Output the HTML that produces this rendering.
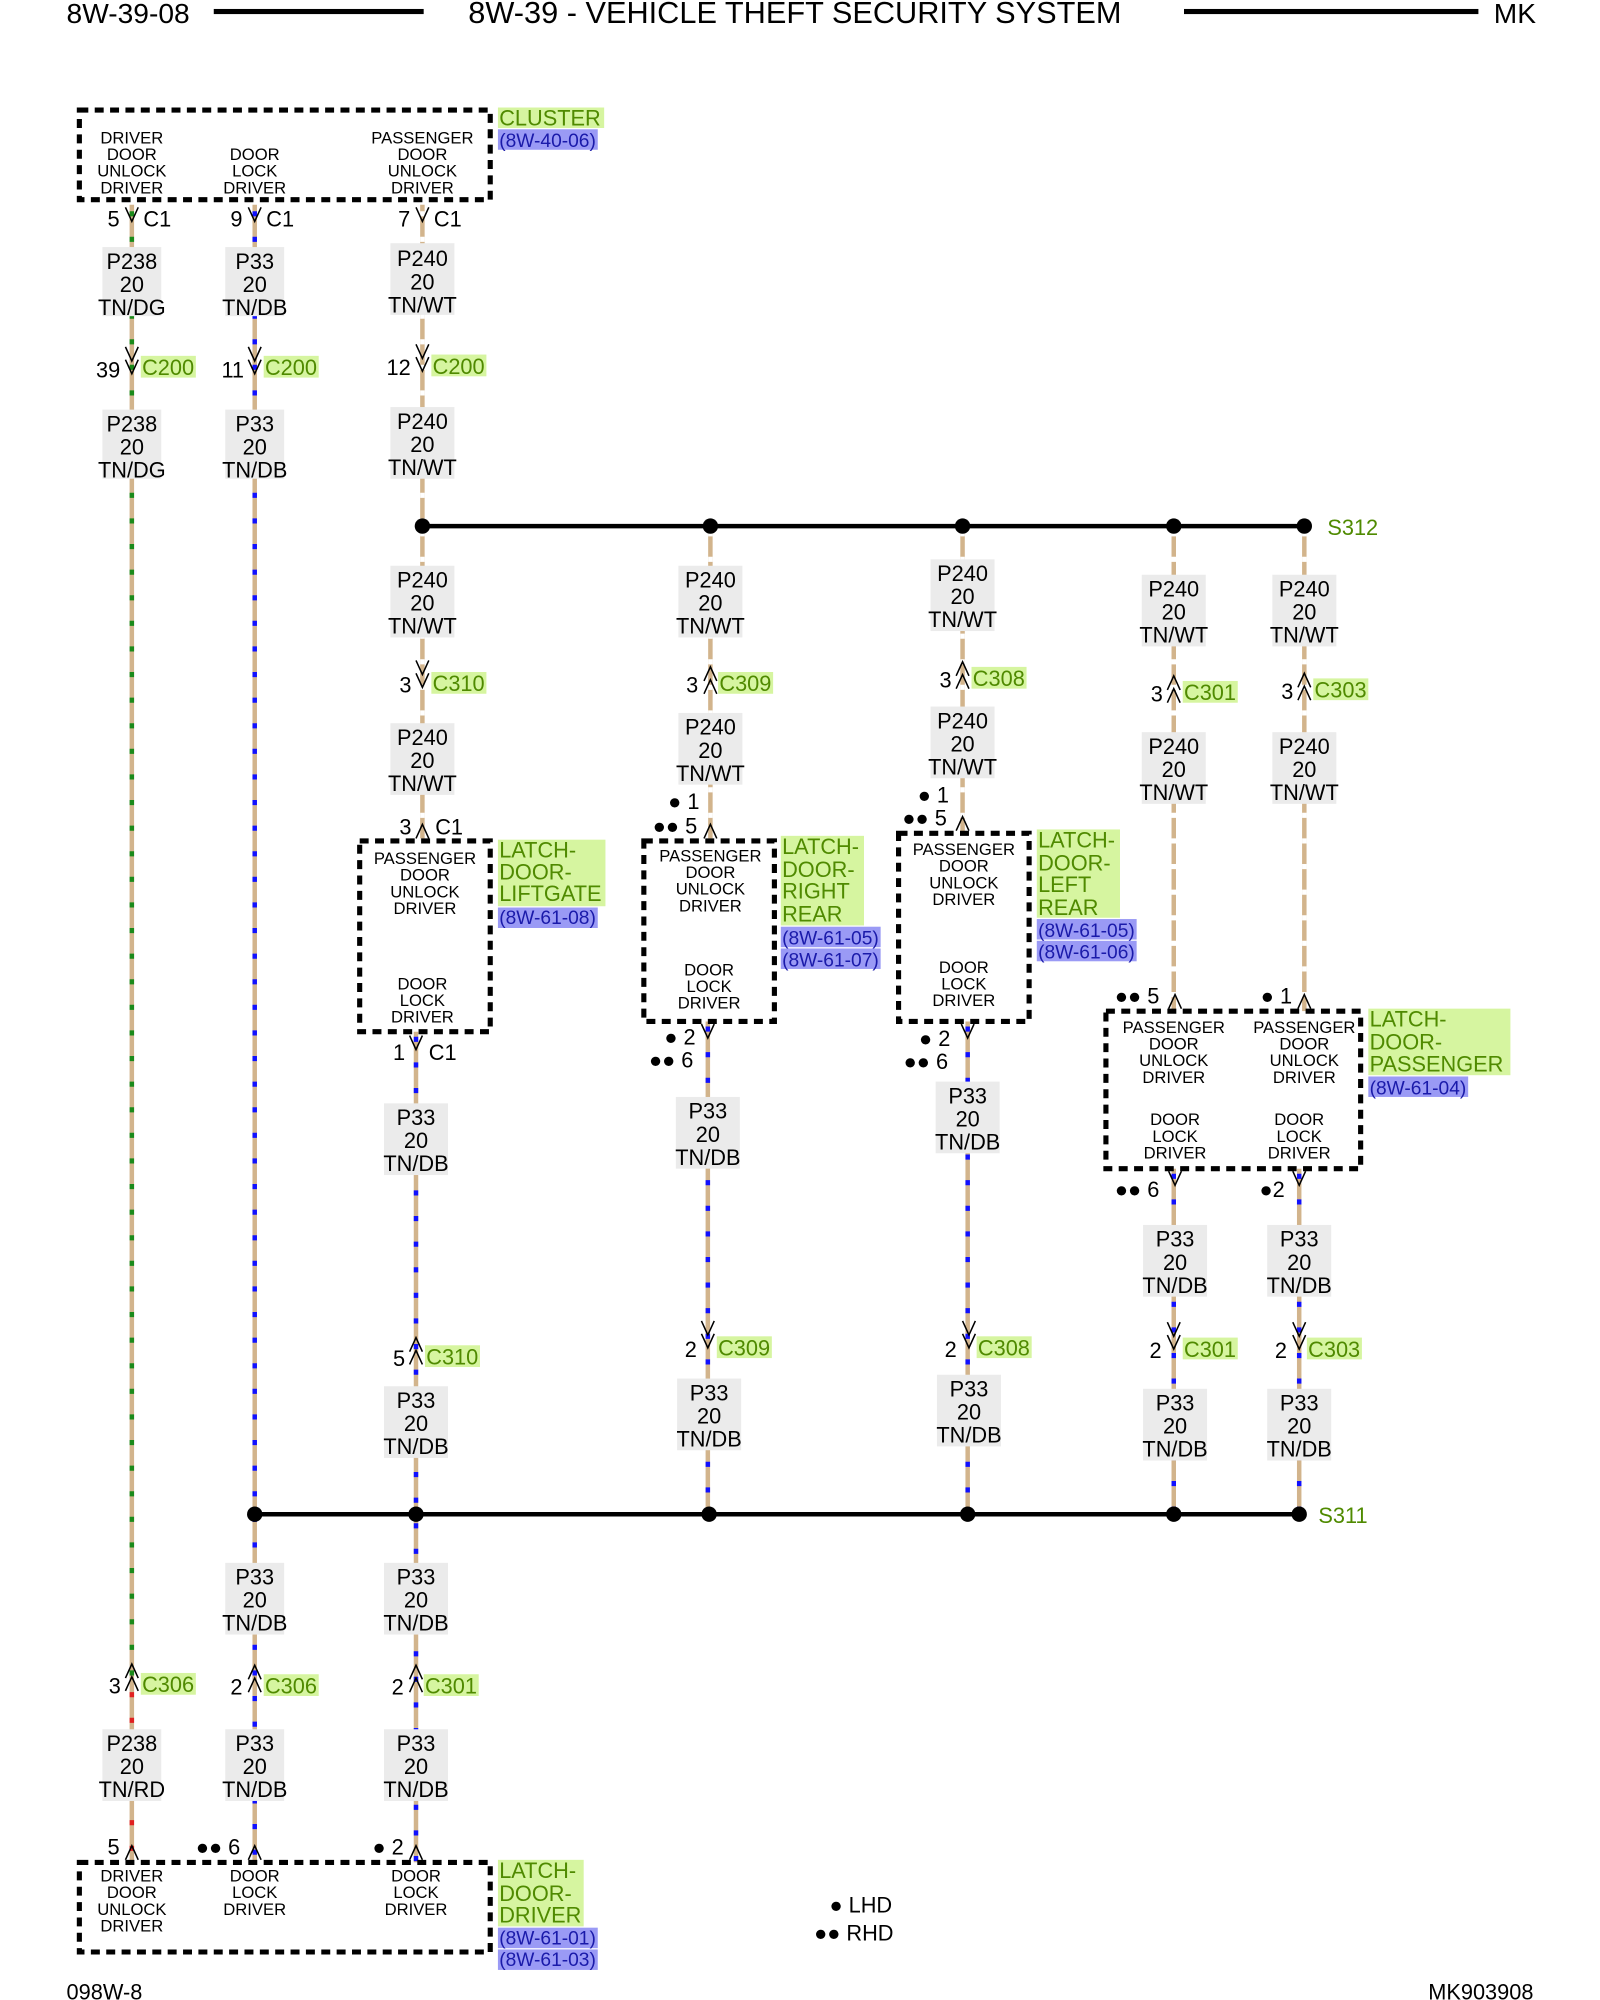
<!DOCTYPE html>
<html><head><meta charset="utf-8"><style>
html,body{margin:0;padding:0;background:#fff}
svg{display:block}
text{font-family:"Liberation Sans",Arial,sans-serif;fill:#000}
.t{font-size:17px}
.s{font-size:13px}
.m{text-anchor:middle}
.g{fill:#4f8a00}
</style></head><body>
<svg width="1600" height="2000" viewBox="0 0 1250 1562.5" xmlns="http://www.w3.org/2000/svg">
<defs>
<g id="dn"><path d="M-5,-6 L0,5 L5,-6" fill="none" stroke="#000" stroke-width="1.2"/></g>
<g id="up"><path d="M-5,6 L0,-5 L5,6" fill="none" stroke="#000" stroke-width="1.2"/></g>
<g id="dn2"><path d="M-5,-14 L0,-3 L5,-14 M-5,-4 L0,7 L5,-4" fill="none" stroke="#000" stroke-width="1.2"/></g>
<g id="up2"><path d="M-5,14 L0,3 L5,14 M-5,4 L0,-7 L5,4" fill="none" stroke="#000" stroke-width="1.2"/></g>
</defs>
<!-- header -->
<text x="52" y="18" style="font-size:22px">8W-39-08</text>
<rect x="167" y="7" width="164" height="4" fill="#000"/>
<text x="621" y="18" class="m" style="font-size:24px">8W-39 - VEHICLE THEFT SECURITY SYSTEM</text>
<rect x="925" y="7" width="230" height="4" fill="#000"/>
<text x="1167" y="18" style="font-size:22px">MK</text>
<text x="52" y="1562" style="font-size:17px">098W-8</text>
<text x="1198" y="1562" style="font-size:17px;text-anchor:end">MK903908</text>

<!-- wires -->
<g stroke-width="3.5" fill="none">
<g stroke="#d2b48c">
<path d="M103,160V1455 M199,160V1455 M330,160V411 M330,411V657 M325,806V1455 M555,411V657 M553,798V1183 M752,411V651 M756,798V1183 M917,411V790 M917,913V1183 M1019,411V790 M1015,913V1183"/>
</g>
<g stroke="#1a8a1a" stroke-dasharray="4 16"><path d="M103,165V1320"/></g>
<g stroke="#e02020" stroke-dasharray="4 16"><path d="M103,1322V1455"/></g>
<g stroke="#1010ff" stroke-dasharray="4 16"><path d="M199,165V1455 M325,810V1455 M553,802V1183 M756,802V1183 M917,917V1183 M1015,917V1183"/></g>
<g stroke="#fff" stroke-dasharray="4 16"><path d="M330,165V411 M330,415V657 M555,415V657 M752,415V651 M917,415V790 M1019,415V790"/></g>
</g>
<!-- splices -->
<line x1="330" y1="411" x2="1019" y2="411" stroke="#000" stroke-width="3.5"/>
<g fill="#000"><circle cx="330" cy="411" r="6"/><circle cx="555" cy="411" r="6"/><circle cx="752" cy="411" r="6"/><circle cx="917" cy="411" r="6"/><circle cx="1019" cy="411" r="6"/></g>
<text x="1037" y="418" class="t g">S312</text>
<line x1="199" y1="1183" x2="1015" y2="1183" stroke="#000" stroke-width="3.5"/>
<g fill="#000"><circle cx="199" cy="1183" r="6"/><circle cx="325" cy="1183" r="6"/><circle cx="554" cy="1183" r="6"/><circle cx="756" cy="1183" r="6"/><circle cx="917" cy="1183" r="6"/><circle cx="1015" cy="1183" r="6"/></g>
<text x="1030" y="1190" class="t g">S311</text>

<!-- boxes -->
<g fill="#fff" stroke="#000" stroke-width="4" stroke-dasharray="7 5">
<rect x="62" y="86" width="321" height="70"/>
<rect x="281" y="657" width="102" height="149"/>
<rect x="503" y="657" width="102" height="141"/>
<rect x="702" y="651" width="102" height="147"/>
<rect x="864" y="790" width="199" height="123"/>
<rect x="62" y="1455" width="321" height="70"/>
</g>

<!-- component labels -->
<g>
<rect x="389" y="84" width="83" height="16" fill="#d6f5a0"/><text x="390" y="98" class="t g">CLUSTER</text>
<rect x="389" y="101" width="78" height="16" fill="#9a9af5"/><text x="390" y="115" style="font-size:15px;fill:#1a1aaa">(8W-40-06)</text>

<rect x="389" y="656" width="84" height="52" fill="#d6f5a0"/>
<text x="390" y="670" class="t g">LATCH-</text><text x="390" y="687" class="t g">DOOR-</text><text x="390" y="704" class="t g">LIFTGATE</text>
<rect x="389" y="709" width="78" height="16" fill="#9a9af5"/><text x="390" y="722" style="font-size:15px;fill:#1a1aaa">(8W-61-08)</text>

<rect x="610" y="653" width="65" height="70" fill="#d6f5a0"/>
<text x="611" y="667" class="t g">LATCH-</text><text x="611" y="685" class="t g">DOOR-</text><text x="611" y="702" class="t g">RIGHT</text><text x="611" y="720" class="t g">REAR</text>
<rect x="610" y="724" width="78" height="16" fill="#9a9af5"/><text x="611" y="738" style="font-size:15px;fill:#1a1aaa">(8W-61-05)</text>
<rect x="610" y="741" width="78" height="16" fill="#9a9af5"/><text x="611" y="755" style="font-size:15px;fill:#1a1aaa">(8W-61-07)</text>

<rect x="810" y="648" width="65" height="69" fill="#d6f5a0"/>
<text x="811" y="662" class="t g">LATCH-</text><text x="811" y="680" class="t g">DOOR-</text><text x="811" y="697" class="t g">LEFT</text><text x="811" y="715" class="t g">REAR</text>
<rect x="810" y="718" width="78" height="16" fill="#9a9af5"/><text x="811" y="732" style="font-size:15px;fill:#1a1aaa">(8W-61-05)</text>
<rect x="810" y="735" width="78" height="16" fill="#9a9af5"/><text x="811" y="749" style="font-size:15px;fill:#1a1aaa">(8W-61-06)</text>

<rect x="1069" y="788" width="111" height="52" fill="#d6f5a0"/>
<text x="1070" y="802" class="t g">LATCH-</text><text x="1070" y="820" class="t g">DOOR-</text><text x="1070" y="837" class="t g">PASSENGER</text>
<rect x="1069" y="841" width="78" height="16" fill="#9a9af5"/><text x="1070" y="855" style="font-size:15px;fill:#1a1aaa">(8W-61-04)</text>

<rect x="389" y="1453" width="67" height="52" fill="#d6f5a0"/>
<text x="390" y="1467" class="t g">LATCH-</text><text x="390" y="1485" class="t g">DOOR-</text><text x="390" y="1502" class="t g">DRIVER</text>
<rect x="389" y="1506" width="78" height="16" fill="#9a9af5"/><text x="390" y="1519" style="font-size:15px;fill:#1a1aaa">(8W-61-01)</text>
<rect x="389" y="1523" width="78" height="16" fill="#9a9af5"/><text x="390" y="1536" style="font-size:15px;fill:#1a1aaa">(8W-61-03)</text>
</g>

<!-- box inner text -->
<g class="s m">
<text x="103" y="112" class="s m">DRIVER</text><text x="103" y="125" class="s m">DOOR</text><text x="103" y="138" class="s m">UNLOCK</text><text x="103" y="151" class="s m">DRIVER</text>
<text x="199" y="125" class="s m">DOOR</text><text x="199" y="138" class="s m">LOCK</text><text x="199" y="151" class="s m">DRIVER</text>
<text x="330" y="112" class="s m">PASSENGER</text><text x="330" y="125" class="s m">DOOR</text><text x="330" y="138" class="s m">UNLOCK</text><text x="330" y="151" class="s m">DRIVER</text>

<text x="332" y="675" class="s m">PASSENGER</text><text x="332" y="688" class="s m">DOOR</text><text x="332" y="701" class="s m">UNLOCK</text><text x="332" y="714" class="s m">DRIVER</text>
<text x="330" y="773" class="s m">DOOR</text><text x="330" y="786" class="s m">LOCK</text><text x="330" y="799" class="s m">DRIVER</text>

<text x="555" y="673" class="s m">PASSENGER</text><text x="555" y="686" class="s m">DOOR</text><text x="555" y="699" class="s m">UNLOCK</text><text x="555" y="712" class="s m">DRIVER</text>
<text x="554" y="762" class="s m">DOOR</text><text x="554" y="775" class="s m">LOCK</text><text x="554" y="788" class="s m">DRIVER</text>

<text x="753" y="668" class="s m">PASSENGER</text><text x="753" y="681" class="s m">DOOR</text><text x="753" y="694" class="s m">UNLOCK</text><text x="753" y="707" class="s m">DRIVER</text>
<text x="753" y="760" class="s m">DOOR</text><text x="753" y="773" class="s m">LOCK</text><text x="753" y="786" class="s m">DRIVER</text>

<text x="917" y="807" class="s m">PASSENGER</text><text x="917" y="820" class="s m">DOOR</text><text x="917" y="833" class="s m">UNLOCK</text><text x="917" y="846" class="s m">DRIVER</text>
<text x="918" y="879" class="s m">DOOR</text><text x="918" y="892" class="s m">LOCK</text><text x="918" y="905" class="s m">DRIVER</text>
<text x="1019" y="807" class="s m">PASSENGER</text><text x="1019" y="820" class="s m">DOOR</text><text x="1019" y="833" class="s m">UNLOCK</text><text x="1019" y="846" class="s m">DRIVER</text>
<text x="1015" y="879" class="s m">DOOR</text><text x="1015" y="892" class="s m">LOCK</text><text x="1015" y="905" class="s m">DRIVER</text>

<text x="103" y="1470" class="s m">DRIVER</text><text x="103" y="1483" class="s m">DOOR</text><text x="103" y="1496" class="s m">UNLOCK</text><text x="103" y="1509" class="s m">DRIVER</text>
<text x="199" y="1470" class="s m">DOOR</text><text x="199" y="1483" class="s m">LOCK</text><text x="199" y="1496" class="s m">DRIVER</text>
<text x="325" y="1470" class="s m">DOOR</text><text x="325" y="1483" class="s m">LOCK</text><text x="325" y="1496" class="s m">DRIVER</text>
</g>

<!-- wire label boxes -->
<g fill="#ebebeb">
<rect x="80" y="193" width="46" height="54"/><rect x="176" y="193" width="46" height="54"/><rect x="305" y="190" width="50" height="56"/>
<rect x="80" y="320" width="46" height="54"/><rect x="176" y="320" width="46" height="54"/><rect x="305" y="318" width="50" height="56"/>
<rect x="305" y="442" width="50" height="56"/><rect x="530" y="442" width="50" height="56"/><rect x="727" y="437" width="50" height="56"/><rect x="892" y="449" width="50" height="56"/><rect x="994" y="449" width="50" height="56"/>
<rect x="305" y="565" width="50" height="56"/><rect x="530" y="557" width="50" height="56"/><rect x="727" y="552" width="50" height="56"/><rect x="892" y="572" width="50" height="56"/><rect x="994" y="572" width="50" height="56"/>
<rect x="300" y="862" width="50" height="56"/><rect x="528" y="857" width="50" height="56"/><rect x="731" y="845" width="50" height="56"/><rect x="893" y="957" width="50" height="56"/><rect x="990" y="957" width="50" height="56"/>
<rect x="300" y="1083" width="50" height="56"/><rect x="529" y="1077" width="50" height="56"/><rect x="732" y="1074" width="50" height="56"/><rect x="893" y="1085" width="50" height="56"/><rect x="990" y="1085" width="50" height="56"/>
<rect x="176" y="1221" width="46" height="56"/><rect x="300" y="1221" width="50" height="56"/>
<rect x="80" y="1351" width="46" height="56"/><rect x="176" y="1351" width="46" height="56"/><rect x="300" y="1351" width="50" height="56"/>
</g>
<g class="t m">
<text x="103" y="210" class="t m">P238</text><text x="103" y="228" class="t m">20</text><text x="103" y="246" class="t m">TN/DG</text>
<text x="199" y="210" class="t m">P33</text><text x="199" y="228" class="t m">20</text><text x="199" y="246" class="t m">TN/DB</text>
<text x="330" y="208" class="t m">P240</text><text x="330" y="226" class="t m">20</text><text x="330" y="244" class="t m">TN/WT</text>
<text x="103" y="337" class="t m">P238</text><text x="103" y="355" class="t m">20</text><text x="103" y="373" class="t m">TN/DG</text>
<text x="199" y="337" class="t m">P33</text><text x="199" y="355" class="t m">20</text><text x="199" y="373" class="t m">TN/DB</text>
<text x="330" y="335" class="t m">P240</text><text x="330" y="353" class="t m">20</text><text x="330" y="371" class="t m">TN/WT</text>

<text x="330" y="459" class="t m">P240</text><text x="330" y="477" class="t m">20</text><text x="330" y="495" class="t m">TN/WT</text>
<text x="555" y="459" class="t m">P240</text><text x="555" y="477" class="t m">20</text><text x="555" y="495" class="t m">TN/WT</text>
<text x="752" y="454" class="t m">P240</text><text x="752" y="472" class="t m">20</text><text x="752" y="490" class="t m">TN/WT</text>
<text x="917" y="466" class="t m">P240</text><text x="917" y="484" class="t m">20</text><text x="917" y="502" class="t m">TN/WT</text>
<text x="1019" y="466" class="t m">P240</text><text x="1019" y="484" class="t m">20</text><text x="1019" y="502" class="t m">TN/WT</text>

<text x="330" y="582" class="t m">P240</text><text x="330" y="600" class="t m">20</text><text x="330" y="618" class="t m">TN/WT</text>
<text x="555" y="574" class="t m">P240</text><text x="555" y="592" class="t m">20</text><text x="555" y="610" class="t m">TN/WT</text>
<text x="752" y="569" class="t m">P240</text><text x="752" y="587" class="t m">20</text><text x="752" y="605" class="t m">TN/WT</text>
<text x="917" y="589" class="t m">P240</text><text x="917" y="607" class="t m">20</text><text x="917" y="625" class="t m">TN/WT</text>
<text x="1019" y="589" class="t m">P240</text><text x="1019" y="607" class="t m">20</text><text x="1019" y="625" class="t m">TN/WT</text>

<text x="325" y="879" class="t m">P33</text><text x="325" y="897" class="t m">20</text><text x="325" y="915" class="t m">TN/DB</text>
<text x="553" y="874" class="t m">P33</text><text x="553" y="892" class="t m">20</text><text x="553" y="910" class="t m">TN/DB</text>
<text x="756" y="862" class="t m">P33</text><text x="756" y="880" class="t m">20</text><text x="756" y="898" class="t m">TN/DB</text>
<text x="918" y="974" class="t m">P33</text><text x="918" y="992" class="t m">20</text><text x="918" y="1010" class="t m">TN/DB</text>
<text x="1015" y="974" class="t m">P33</text><text x="1015" y="992" class="t m">20</text><text x="1015" y="1010" class="t m">TN/DB</text>

<text x="325" y="1100" class="t m">P33</text><text x="325" y="1118" class="t m">20</text><text x="325" y="1136" class="t m">TN/DB</text>
<text x="554" y="1094" class="t m">P33</text><text x="554" y="1112" class="t m">20</text><text x="554" y="1130" class="t m">TN/DB</text>
<text x="757" y="1091" class="t m">P33</text><text x="757" y="1109" class="t m">20</text><text x="757" y="1127" class="t m">TN/DB</text>
<text x="918" y="1102" class="t m">P33</text><text x="918" y="1120" class="t m">20</text><text x="918" y="1138" class="t m">TN/DB</text>
<text x="1015" y="1102" class="t m">P33</text><text x="1015" y="1120" class="t m">20</text><text x="1015" y="1138" class="t m">TN/DB</text>

<text x="199" y="1238" class="t m">P33</text><text x="199" y="1256" class="t m">20</text><text x="199" y="1274" class="t m">TN/DB</text>
<text x="325" y="1238" class="t m">P33</text><text x="325" y="1256" class="t m">20</text><text x="325" y="1274" class="t m">TN/DB</text>
<text x="103" y="1368" class="t m">P238</text><text x="103" y="1386" class="t m">20</text><text x="103" y="1404" class="t m">TN/RD</text>
<text x="199" y="1368" class="t m">P33</text><text x="199" y="1386" class="t m">20</text><text x="199" y="1404" class="t m">TN/DB</text>
<text x="325" y="1368" class="t m">P33</text><text x="325" y="1386" class="t m">20</text><text x="325" y="1404" class="t m">TN/DB</text>
</g>

<!-- connectors -->
<g>
<use href="#dn" x="103" y="168"/><text x="84" y="177" class="t">5</text><text x="112" y="177" class="t">C1</text>
<use href="#dn" x="199" y="168"/><text x="180" y="177" class="t">9</text><text x="208" y="177" class="t">C1</text>
<use href="#dn" x="330" y="168"/><text x="311" y="177" class="t">7</text><text x="339" y="177" class="t">C1</text>

<use href="#dn2" x="103" y="285"/><text x="75" y="295" class="t">39</text><rect x="110" y="278" width="43" height="17" fill="#d6f5a0"/><text x="111" y="293" class="t g">C200</text>
<use href="#dn2" x="199" y="285"/><text x="173" y="295" class="t">11</text><rect x="206" y="278" width="43" height="17" fill="#d6f5a0"/><text x="207" y="293" class="t g">C200</text>
<use href="#dn2" x="330" y="283"/><text x="302" y="293" class="t">12</text><rect x="337" y="277" width="43" height="17" fill="#d6f5a0"/><text x="338" y="292" class="t g">C200</text>

<use href="#dn2" x="330" y="530"/><text x="312" y="541" class="t">3</text><rect x="337" y="525" width="43" height="17" fill="#d6f5a0"/><text x="338" y="540" class="t g">C310</text>
<use href="#up2" x="555" y="528"/><text x="536" y="541" class="t">3</text><rect x="561" y="525" width="43" height="17" fill="#d6f5a0"/><text x="562" y="540" class="t g">C309</text>
<use href="#up2" x="752" y="524"/><text x="734" y="537" class="t">3</text><rect x="759" y="521" width="43" height="17" fill="#d6f5a0"/><text x="760" y="536" class="t g">C308</text>
<use href="#up2" x="917" y="535"/><text x="899" y="548" class="t">3</text><rect x="924" y="532" width="43" height="17" fill="#d6f5a0"/><text x="925" y="547" class="t g">C301</text>
<use href="#up2" x="1019" y="533"/><text x="1001" y="546" class="t">3</text><rect x="1026" y="530" width="43" height="17" fill="#d6f5a0"/><text x="1027" y="545" class="t g">C303</text>

<use href="#up" x="330" y="649"/><text x="312" y="652" class="t">3</text><text x="340" y="652" class="t">C1</text>
<text x="522" y="632" class="t">● 1</text><text x="510" y="651" class="t">●● 5</text><use href="#up" x="555" y="649"/>
<text x="717" y="627" class="t">● 1</text><text x="705" y="645" class="t">●● 5</text><use href="#up" x="752" y="643"/>
<text x="871" y="784" class="t">●● 5</text><use href="#up" x="918" y="782"/>
<text x="985" y="784" class="t">● 1</text><use href="#up" x="1019" y="782"/>

<use href="#dn" x="325" y="815"/><text x="307" y="828" class="t">1</text><text x="335" y="828" class="t">C1</text>
<text x="519" y="816" class="t">● 2</text><text x="507" y="834" class="t">●● 6</text><use href="#dn" x="553" y="806"/>
<text x="718" y="817" class="t">● 2</text><text x="706" y="835" class="t">●● 6</text><use href="#dn" x="756" y="806"/>
<text x="871" y="935" class="t">●● 6</text><use href="#dn" x="918" y="921"/>
<text x="984" y="935" class="t">●2</text><use href="#dn" x="1015" y="921"/>

<use href="#up2" x="325" y="1052"/><text x="307" y="1067" class="t">5</text><rect x="332" y="1051" width="43" height="17" fill="#d6f5a0"/><text x="333" y="1066" class="t g">C310</text>
<use href="#dn2" x="553" y="1046"/><text x="535" y="1060" class="t">2</text><rect x="560" y="1044" width="43" height="17" fill="#d6f5a0"/><text x="561" y="1059" class="t g">C309</text>
<use href="#dn2" x="757" y="1046"/><text x="738" y="1060" class="t">2</text><rect x="763" y="1044" width="43" height="17" fill="#d6f5a0"/><text x="764" y="1059" class="t g">C308</text>
<use href="#dn2" x="917" y="1047"/><text x="898" y="1061" class="t">2</text><rect x="924" y="1045" width="43" height="17" fill="#d6f5a0"/><text x="925" y="1060" class="t g">C301</text>
<use href="#dn2" x="1015" y="1047"/><text x="996" y="1061" class="t">2</text><rect x="1021" y="1045" width="43" height="17" fill="#d6f5a0"/><text x="1022" y="1060" class="t g">C303</text>

<use href="#up2" x="103" y="1307"/><text x="85" y="1323" class="t">3</text><rect x="110" y="1307" width="43" height="17" fill="#d6f5a0"/><text x="111" y="1322" class="t g">C306</text>
<use href="#up2" x="199" y="1308"/><text x="180" y="1324" class="t">2</text><rect x="206" y="1308" width="43" height="17" fill="#d6f5a0"/><text x="207" y="1323" class="t g">C306</text>
<use href="#up2" x="325" y="1308"/><text x="306" y="1324" class="t">2</text><rect x="331" y="1308" width="43" height="17" fill="#d6f5a0"/><text x="332" y="1323" class="t g">C301</text>

<text x="84" y="1449" class="t">5</text><use href="#up" x="103" y="1447"/>
<text x="153" y="1449" class="t">●● 6</text><use href="#up" x="199" y="1447"/>
<text x="291" y="1449" class="t">● 2</text><use href="#up" x="325" y="1447"/>
</g>

<!-- legend -->
<text x="648" y="1494" class="t">● LHD</text>
<text x="636" y="1516" class="t">●● RHD</text>
</svg>
</body></html>
